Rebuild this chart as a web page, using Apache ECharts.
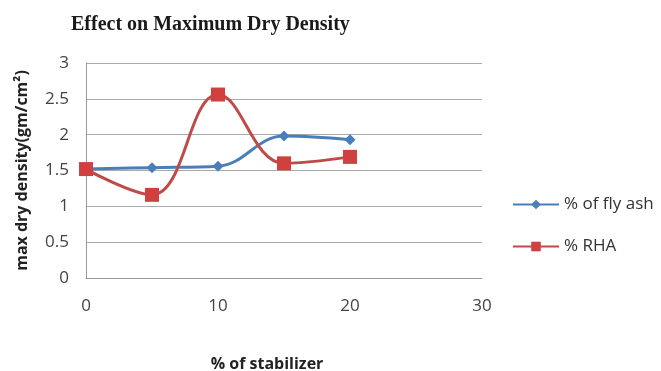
<!DOCTYPE html>
<html><head><meta charset="utf-8">
<script src="https://cdn.jsdelivr.net/npm/echarts@6/dist/echarts.min.js"></script>
<style>html,body{margin:0;padding:0;background:#fff}#c{width:661px;height:371px}</style>
</head><body><div id="c"></div>
<script>
const stabilizer = [0, 5, 10, 15, 20];
const flyAsh = [1.52, 1.54, 1.56, 1.98, 1.93];
const rha = [1.52, 1.16, 2.56, 1.60, 1.69];
const seriesNames = ['% of fly ash', '% RHA'];
const titleText = 'Effect on Maximum Dry Density';
const xName = '% of stabilizer';
const yName = 'max dry density(gm/cm²)';

const chart = echarts.init(document.getElementById('c'));
const font = 'Open Sans';
chart.setOption({
  animation: false,
  title: { text: titleText, left: 66, top: 10,
    textStyle: { fontFamily: 'Liberation Serif', fontWeight: 'bold', fontSize: 20, color: '#1a1a1a' } },
  grid: { left: 86, right: 179, top: 63, bottom: 93, containLabel: false, outerBoundsMode: 'none' },
  legend: {
    orient: 'vertical', left: 507, top: 191, itemGap: 25, itemWidth: 46, itemHeight: 12,
    textStyle: { fontFamily: font, fontSize: 17, color: '#333' },
    data: seriesNames
  },
  xAxis: {
    type: 'value', min: 0, max: 30, interval: 10,
    name: xName, nameLocation: 'middle', nameGap: 78,
    nameTextStyle: { fontFamily: font, fontWeight: 'bold', fontSize: 16, color: '#222', padding: [0, 34, 0, 0] },
    axisLine: { show: true, lineStyle: { color: '#999' } },
    axisTick: { show: false },
    splitLine: { show: false },
    axisLabel: { fontFamily: font, fontSize: 17, color: '#444', margin: 20 }
  },
  yAxis: {
    type: 'value', min: 0, max: 3, interval: 0.5,
    name: yName, nameLocation: 'middle', nameGap: 56,
    nameTextStyle: { fontFamily: font, fontWeight: 'bold', fontSize: 16, color: '#222' },
    axisLine: { show: true, lineStyle: { color: '#999' } },
    axisTick: { show: false },
    splitLine: { lineStyle: { color: '#aaa' } },
    axisLabel: { fontFamily: font, fontSize: 17, color: '#444', margin: 17 }
  },
  series: [
    { name: seriesNames[0], type: 'line', smooth: 0.4,
      data: stabilizer.map((x, i) => [x, flyAsh[i]]),
      symbol: 'diamond', symbolSize: 11,
      lineStyle: { color: '#4A7EBB', width: 3 }, itemStyle: { color: '#4A7EBB' } },
    { name: seriesNames[1], type: 'line', smooth: 0.4,
      data: stabilizer.map((x, i) => [x, rha[i]]),
      symbol: 'rect', symbolSize: 14,
      lineStyle: { color: '#BE4B48', width: 3 }, itemStyle: { color: '#D0403E' } }
  ]
});
</script></body></html>
